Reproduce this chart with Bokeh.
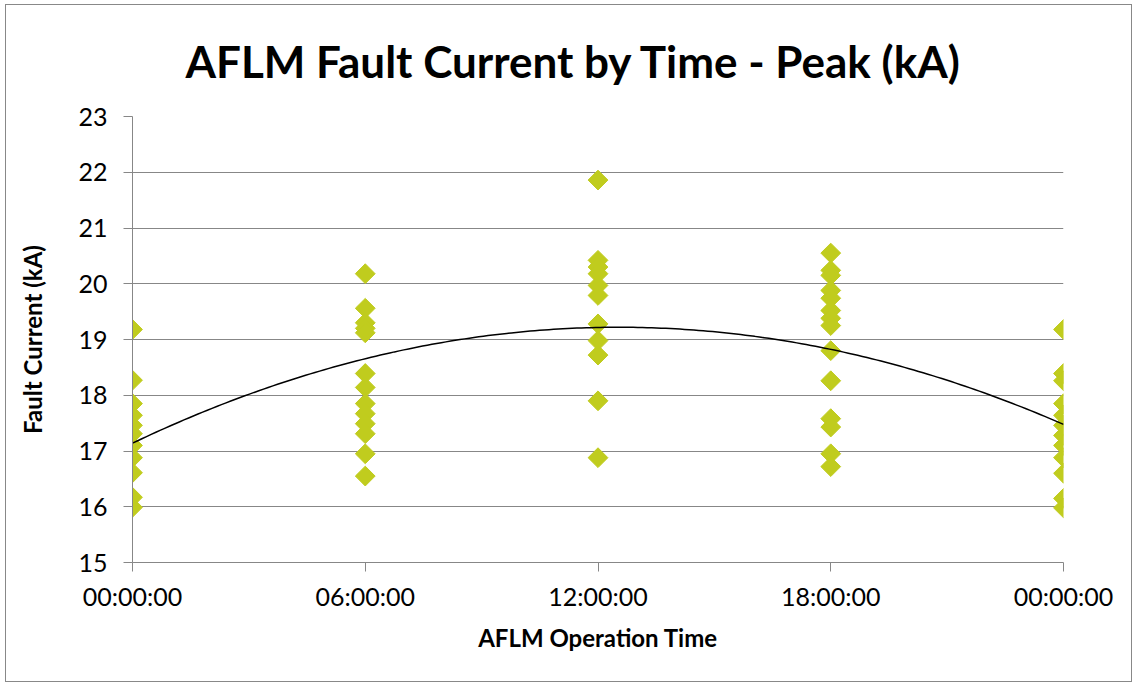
import numpy as np
from bokeh.plotting import figure
from bokeh.models import FixedTicker, ColumnDataSource
from bokeh.embed import file_html
from bokeh.resources import INLINE

# ---- data ----
hours = [0, 6, 12, 18, 24]
tick_labels = ["00:00:00", "06:00:00", "12:00:00", "18:00:00", "00:00:00"]
y_ticks = [15, 16, 17, 18, 19, 20, 21, 22, 23]

peak_00h = [19.18, 18.27, 17.85, 17.64, 17.46, 17.31, 17.10, 16.88, 16.61, 16.17, 15.99]
peak_06h = [20.18, 19.56, 19.30, 19.20, 19.12, 18.39, 18.14, 17.85, 17.67, 17.49, 17.31, 16.95, 16.55]
peak_12h = [21.86, 20.42, 20.30, 20.18, 19.97, 19.79, 19.28, 18.98, 18.72, 17.90, 16.88]
peak_18h = [20.55, 20.24, 20.15, 19.88, 19.74, 19.52, 19.38, 19.25, 18.80, 18.26, 17.58, 17.43, 16.95, 16.72]
peak_24h = [19.18, 18.39, 18.26, 17.85, 17.64, 17.46, 17.28, 17.10, 16.88, 16.60, 16.15, 15.98]

columns = [peak_00h, peak_06h, peak_12h, peak_18h, peak_24h]
xs = []
ys = []
for h, col in zip(hours, columns):
    xs += [h] * len(col)
    ys += col

src = ColumnDataSource(dict(x=xs, y=ys))

# polynomial (order 2) trendline fitted to the points
coef = np.polyfit(np.array(xs, dtype=float), np.array(ys), 2)
tx = np.linspace(0, 24, 200)
ty = np.polyval(coef, tx)

FONT = "Lato"
GRID = "#878787"

p = figure(width=1127, height=678, x_range=(0, 24), y_range=(15, 23),
           output_backend="svg", toolbar_location=None,
           min_border_left=126, min_border_right=70,
           min_border_top=111, min_border_bottom=121)

p.title.text = "AFLM Fault Current by Time - Peak (kA)"
p.title.text_font = FONT
p.title.text_font_size = "44px"
p.title.text_font_style = "bold"
p.title.align = "left"
p.title.vertical_align = "top"
p.title.offset = 53
p.title.standoff = 56
p.title.text_color = "black"

p.scatter("x", "y", source=src, marker="square", angle=np.pi / 4, size=14,
          fill_color="#c0cc1e", line_color="#c0cc1e")
p.line(tx, ty, line_color="black", line_width=1.5)

p.outline_line_color = None
p.xgrid.grid_line_color = None
p.ygrid.grid_line_color = GRID
p.ygrid.grid_line_width = 1

p.xaxis.ticker = FixedTicker(ticks=hours)
p.xaxis.major_label_overrides = {h: lbl for h, lbl in zip(hours, tick_labels)}
p.yaxis.ticker = FixedTicker(ticks=y_ticks)

for ax in (p.xaxis[0], p.yaxis[0]):
    ax.axis_line_color = GRID
    ax.major_tick_line_color = GRID
    ax.major_tick_in = 0
    ax.major_tick_out = 9
    ax.minor_tick_line_color = None
    ax.major_label_text_font = FONT
    ax.major_label_text_font_size = "25px"
    ax.major_label_text_color = "black"
    ax.axis_label_text_font = FONT
    ax.axis_label_text_font_size = "24px"
    ax.axis_label_text_font_style = "bold"
    ax.axis_label_text_color = "black"

p.xaxis.axis_label = "AFLM Operation Time"
p.yaxis.axis_label = "Fault Current (kA)"
p.xaxis.major_label_standoff = 9
p.yaxis.major_label_standoff = 16
p.xaxis.axis_label_standoff = 9
p.yaxis.axis_label_standoff = 28

p.styles = {"border": "1px solid #888888", "margin-left": "5px", "margin-top": "4px"}

open("out.html", "w").write(file_html(p, INLINE))
